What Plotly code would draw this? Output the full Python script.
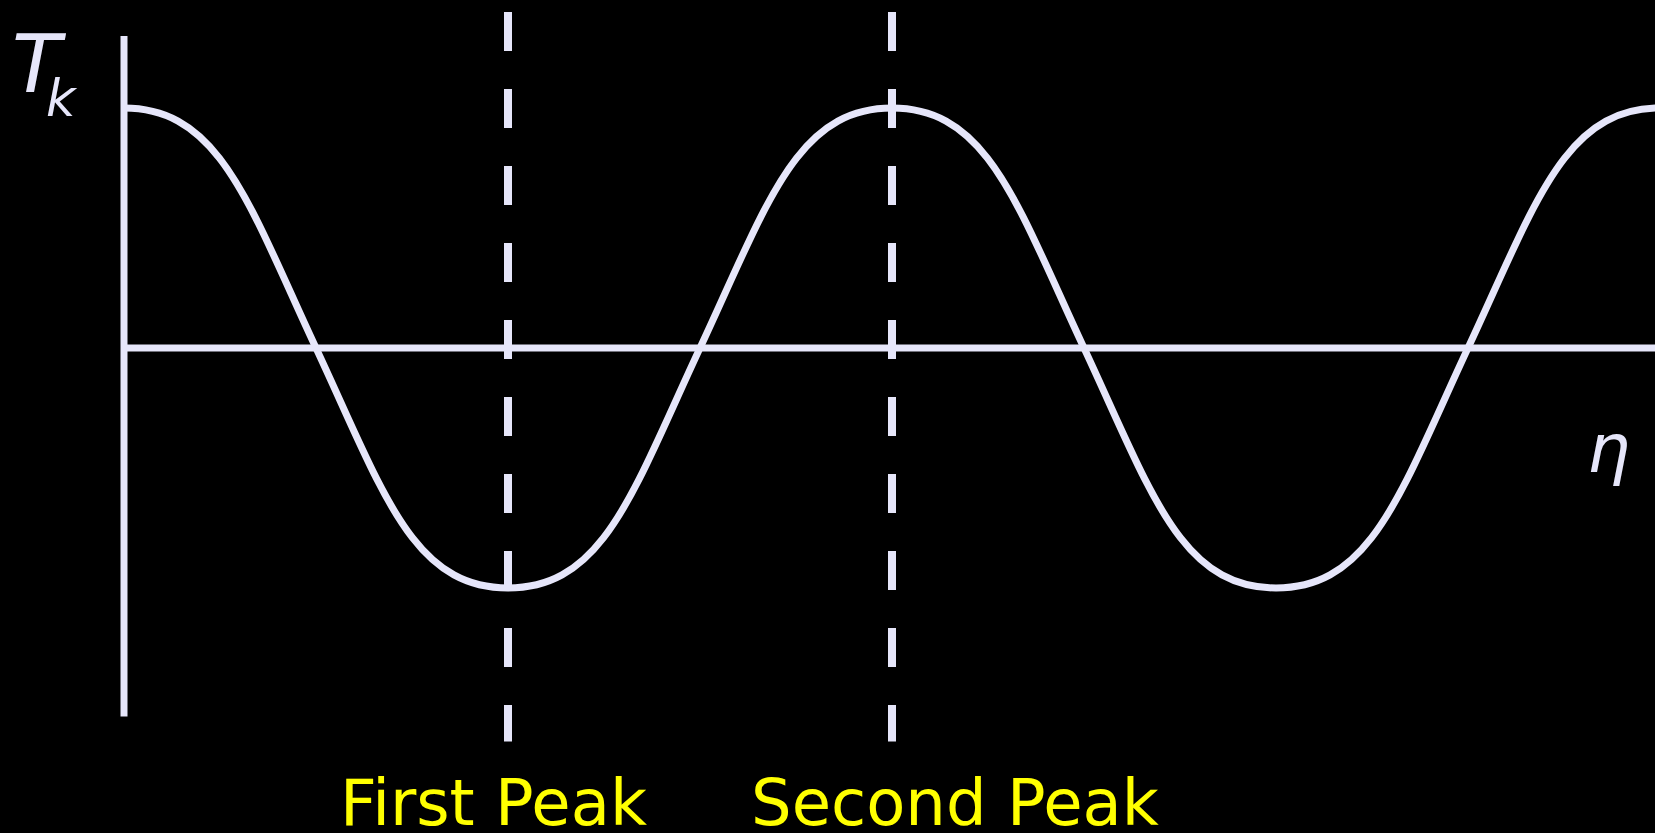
import numpy as np
import plotly.graph_objects as go

# Temperature mode T_k: extrema and zero crossings along conformal time
# (k*eta, radians), with the curve's slope at each of those nodes.
node_eta = [i * np.pi / 2 for i in range(9)]
node_T = [1.0, 0.0, -1.0, 0.0, 1.0, 0.0, -1.0, 0.0, 1.0]
node_slope = [0.0, -1.09, 0.0, 1.09, 0.0, -1.09, 0.0, 1.09, 0.0]
# Bezier handle length at each node, as a fraction of the node spacing
node_handle = [0.50, 0.35, 0.50, 0.35, 0.50, 0.35, 0.50, 0.35, 0.50]

peak_positions = [np.pi, 2 * np.pi]          # acoustic peaks at k*eta = n*pi
peak_labels = ["First Peak", "Second Peak"]
peak_label_x = [3.02, 6.80]                  # label centres along eta

W, H = 1655, 833
LINE = "#E6E6FA"
YELLOW = "#FFFF00"
FONT = "DejaVu Sans"

# axis ranges chosen so eta=0 sits at 124px and T=0 at 348px
px_per_rad = 384 / np.pi
px_per_unit = 240.0
x_range = [-124 / px_per_rad, (W - 124) / px_per_rad]
y_range = [-(H - 348) / px_per_unit, 348 / px_per_unit]

# smooth cubic Bezier path through the nodes, in data coordinates
path = f"M {node_eta[0]:.5f},{node_T[0]:.5f}"
for i in range(len(node_eta) - 1):
    x0, y0, s0, h0 = node_eta[i], node_T[i], node_slope[i], node_handle[i]
    x1, y1, s1, h1 = node_eta[i + 1], node_T[i + 1], node_slope[i + 1], node_handle[i + 1]
    w = x1 - x0
    c1 = (x0 + h0 * w, y0 + s0 * h0 * w)
    c2 = (x1 - h1 * w, y1 - s1 * h1 * w)
    path += (f" C {c1[0]:.5f},{c1[1]:.5f} {c2[0]:.5f},{c2[1]:.5f}"
             f" {x1:.5f},{y1:.5f}")

fig = go.Figure()
# node points carry the axes; the curve itself is the path shape below
fig.add_trace(go.Scatter(x=node_eta, y=node_T, mode="markers",
                         marker=dict(size=1, opacity=0),
                         hoverinfo="skip", showlegend=False))

shapes = [
    # vertical T_k axis
    dict(type="line", xref="x", yref="y", x0=0, x1=0, y0=1.30, y1=-1.535,
         line=dict(color=LINE, width=7), layer="below"),
    # horizontal eta axis
    dict(type="line", xref="x", yref="y", x0=0, x1=x_range[1] + 1, y0=0, y1=0,
         line=dict(color=LINE, width=7), layer="below"),
]
for xp in peak_positions:
    shapes.append(dict(type="line", xref="x", yref="y", x0=xp, x1=xp,
                       y0=1.40, y1=-1.64,
                       line=dict(color=LINE, width=8, dash="39px,38px"),
                       layer="below"))
shapes.append(dict(type="path", xref="x", yref="y", path=path,
                   line=dict(color=LINE, width=7), layer="above"))


def px(xp):
    return xp / W


def py(yp):
    return 1 - yp / H


annotations = [
    # axis label T_k, with the subscript set lower and tucked under the T
    dict(text="<i>T</i>", xref="paper", yref="paper",
         x=px(10), y=py(16), xanchor="left", yanchor="top", showarrow=False,
         font=dict(family=FONT, size=80, color=LINE)),
    dict(text="<i>k</i>", xref="paper", yref="paper",
         x=px(44), y=py(67), xanchor="left", yanchor="top", showarrow=False,
         font=dict(family=FONT, size=51, color=LINE)),
    dict(text="<i>η</i>", xref="paper", yref="paper",
         x=px(1608), y=py(448), xanchor="center", yanchor="middle",
         showarrow=False, font=dict(family=FONT, size=68, color=LINE)),
]
for lx, lab in zip(peak_label_x, peak_labels):
    annotations.append(dict(text=lab, xref="x", yref="paper", x=lx,
                            y=py(803), xanchor="center", yanchor="middle",
                            showarrow=False,
                            font=dict(family=FONT, size=64, color=YELLOW)))

fig.update_layout(
    width=W, height=H,
    margin=dict(l=0, r=0, t=0, b=0),
    paper_bgcolor="black", plot_bgcolor="black",
    xaxis=dict(range=x_range, visible=False, fixedrange=True),
    yaxis=dict(range=y_range, visible=False, fixedrange=True),
    shapes=shapes, annotations=annotations,
)

fig.write_html("out.html")
